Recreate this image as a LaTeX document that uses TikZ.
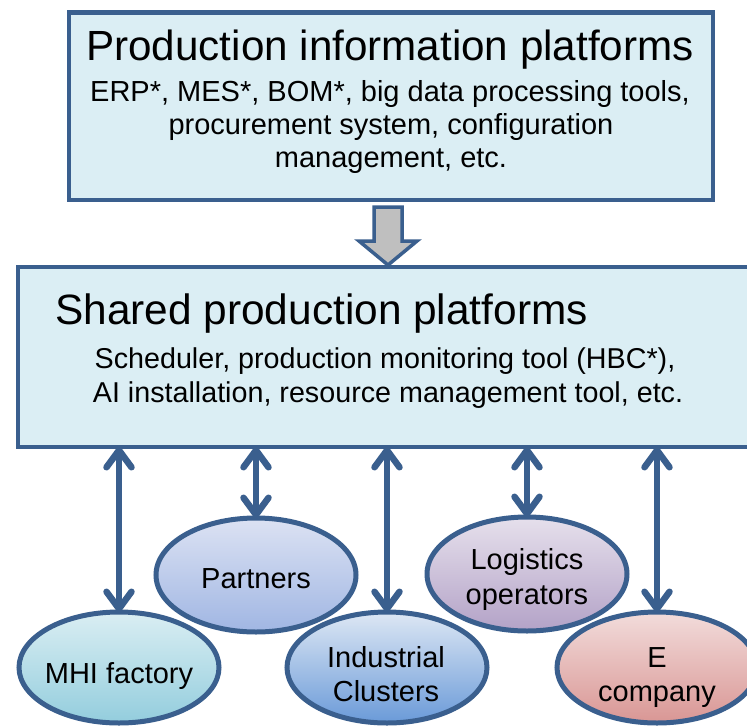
\documentclass[tikz,border=0pt]{standalone}
\usepackage{fontspec}
\setmainfont{Liberation Sans}
\usetikzlibrary{shapes.geometric,arrows.meta,calc}
\definecolor{edgeblue}{HTML}{3A5F8E}
\definecolor{boxfill}{HTML}{DBEEF4}
\definecolor{grayfill}{HTML}{BFBFBF}
\definecolor{mhitop}{HTML}{DAEEF3}
\definecolor{mhibot}{HTML}{93CDDD}
\definecolor{partop}{HTML}{DCE2F3}
\definecolor{parbot}{HTML}{A0B6E3}
\definecolor{indtop}{HTML}{DDE7F4}
\definecolor{indmid}{HTML}{C4D7F0}
\definecolor{indbot}{HTML}{6A9AD8}
\definecolor{logtop}{HTML}{E6E0EC}
\definecolor{logbot}{HTML}{B3A2C7}
\definecolor{ectop}{HTML}{F2DCDB}
\definecolor{ecbot}{HTML}{D99694}
\begin{document}
\begin{tikzpicture}[x=1pt,y=-1pt,
  platbox/.style={draw=edgeblue,line width=4.5pt,fill=boxfill,rectangle,inner sep=0pt,outer sep=0pt},
  ell/.style={draw=edgeblue,line width=5pt,ellipse,inner sep=0pt,outer sep=0pt,minimum width=200pt,minimum height=111pt},
  etext/.style={anchor=base,inner sep=0pt,font=\fontsize{29}{34}\selectfont},
  toptitle/.style={anchor=base,inner sep=0pt,font=\fontsize{42.2}{48}\selectfont},
  topsub/.style={anchor=base,inner sep=0pt,font=\fontsize{29}{34}\selectfont},
  shsub/.style={anchor=base,inner sep=0pt,font=\fontsize{28.7}{34}\selectfont},
  biarrow/.style={draw=edgeblue,line width=6.5pt,
    {Straight Barb[length=17pt,width=25pt,round]}-{Straight Barb[length=17pt,width=25pt,round]}},
  blockarrow/.style={draw=edgeblue,line width=3.5pt,fill=grayfill,line join=miter}
]
\useasboundingbox (0,0) rectangle (747,726);
\fill[white] (0,0) rectangle (747,726);

% boxes
\node[platbox,minimum width=644pt,minimum height=187.5pt] (info) at (391,106.25) {};
\node[platbox,minimum width=742pt,minimum height=180pt] (shared) at (389,357) {};

% texts of top box
\node[toptitle] (infotitle) at (390,60) {Production information platforms};
\node[topsub] (infol1) at (390,101) {ERP*, MES*, BOM*, big data processing tools,};
\node[topsub] (infol2) at (391,134) {procurement system, configuration};
\node[topsub] (infol3) at (391,167) {management, etc.};

% texts of shared box
\node[anchor=base west,inner sep=0pt,font=\fontsize{42.4}{48}\selectfont] (sharedtitle) at (55,324) {Shared production platforms};
\node[shsub] (sharedl1) at (385,368) {Scheduler, production monitoring tool (HBC*),};
\node[shsub] (sharedl2) at (388,402) {AI installation, resource management tool, etc.};

% block arrow
\coordinate (ga) at (388,207);
\draw[blockarrow] (ga) ++(-14,0) -- ++(28,0) -- ++(0,34) -- ++(15,0) -- (388,265) -- (359,241) -- ++(15,0) -- cycle;

% ellipses
\node[ell,top color=mhitop,bottom color=mhibot] (mhi) at (119,667.5) {};
\node[ell,top color=partop,bottom color=parbot,minimum height=114pt] (partners) at (256,575) {};
\node[ell,top color=indtop,middle color=indmid,bottom color=indbot] (ind) at (387,667.5) {};
\node[ell,top color=logtop,bottom color=logbot,minimum height=114pt] (logi) at (527,574) {};
\node[ell,top color=ectop,bottom color=ecbot] (ecomp) at (657,667.5) {};

% ellipse texts
\node[etext] (mhit) at ($(mhi.center)+(0,16)$) {MHI factory};
\node[etext] (part) at ($(partners.center)+(0,13)$) {Partners};
\node[etext] (indt1) at ($(ind.center)+(-1,-0.5)$) {Industrial};
\node[etext] (indt2) at ($(ind.center)+(-1,33.5)$) {Clusters};
\node[etext] (logt1) at ($(logi.center)+(0,-5)$) {Logistics};
\node[etext] (logt2) at ($(logi.center)+(0,30)$) {operators};
\node[etext] (ect1) at ($(ecomp.center)+(0,-0.5)$) {E};
\node[etext] (ect2) at ($(ecomp.center)+(0,33.5)$) {company};

% connectors
\foreach \e in {mhi,partners,ind,logi,ecomp}
  \draw[biarrow] (shared.south -| \e.north) -- (\e.north);
\end{tikzpicture}
\end{document}
